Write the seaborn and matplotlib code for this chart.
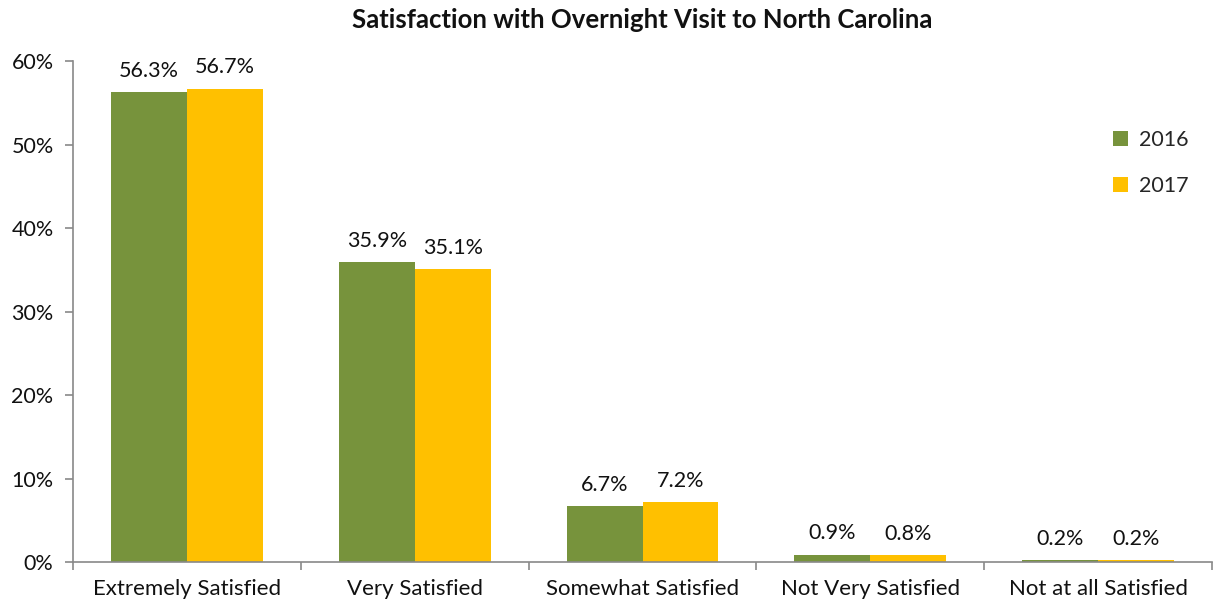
import pandas as pd
import matplotlib.pyplot as plt
import matplotlib.ticker as mticker
import seaborn as sns

categories = ["Extremely Satisfied", "Very Satisfied", "Somewhat Satisfied",
              "Not Very Satisfied", "Not at all Satisfied"]
years = ["2016", "2017"]
vals_2016 = [56.3, 35.9, 6.7, 0.9, 0.2]
vals_2017 = [56.7, 35.1, 7.2, 0.8, 0.2]
colors = ["#77933C", "#FFC000"]

df = pd.DataFrame({
    "category": categories * 2,
    "year": [years[0]] * 5 + [years[1]] * 5,
    "pct": vals_2016 + vals_2017,
})

sns.set_style("white")
plt.rcParams["font.family"] = ["Lato", "DejaVu Sans"]

fig = plt.figure(figsize=(12.13, 6.07), dpi=100)
ax = fig.add_axes([0.0602, 0.0741, 0.9390, 0.8254])

sns.barplot(data=df, x="category", y="pct", hue="year", order=categories,
            hue_order=years, palette=colors, width=0.667, saturation=1,
            linewidth=0, ax=ax, legend=True)

for cont in ax.containers:
    ax.bar_label(cont, fmt="%.1f%%", padding=8, fontsize=15.5, color="#111111")

ax.set_xlim(-0.5, 4.5)
ax.set_ylim(0, 60)
ax.yaxis.set_major_locator(mticker.MultipleLocator(10))
ax.yaxis.set_major_formatter(mticker.FuncFormatter(lambda v, p: f"{v:.0f}%"))
ax.set_xlabel("")
ax.set_ylabel("")

for s in ["top", "right"]:
    ax.spines[s].set_visible(False)
for s in ["left", "bottom"]:
    ax.spines[s].set_color("#898989")
    ax.spines[s].set_linewidth(1.2)

ax.xaxis.set_minor_locator(mticker.FixedLocator([-0.5, 0.5, 1.5, 2.5, 3.5, 4.5]))
ax.tick_params(axis="x", which="major", length=0, pad=12, labelsize=16,
               colors="#111111")
ax.tick_params(axis="x", which="minor", length=6, color="#898989", width=1.2,
               bottom=True)
ax.tick_params(axis="y", which="major", length=6, color="#898989", width=1.2,
               left=True, labelsize=15.5, labelcolor="#111111", pad=8)

ax.set_title("Satisfaction with Overnight Visit to North Carolina",
             fontsize=18.5, fontweight="bold", pad=24, color="#111111")

leg = ax.legend(loc="upper left", bbox_to_anchor=(0.896, 0.90), frameon=False,
                fontsize=15.5, handlelength=0.7, handleheight=0.7,
                labelspacing=1.2, handletextpad=0.5)

fig.savefig("out.png", dpi=100)
